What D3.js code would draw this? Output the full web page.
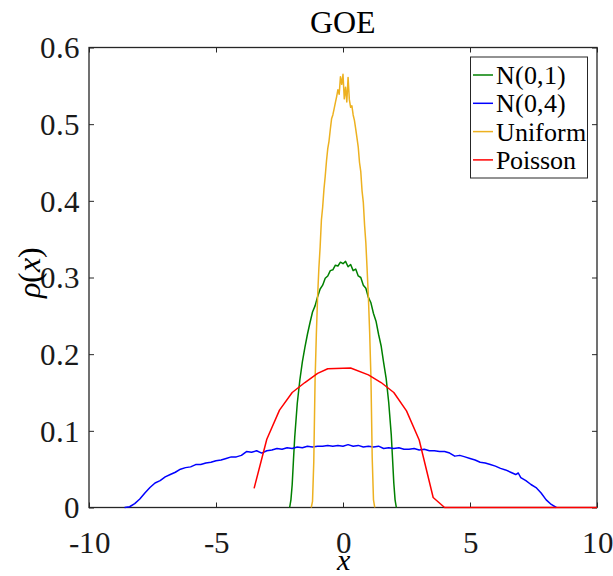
<html>
<head>
<meta charset="utf-8">
<script src="https://cdn.jsdelivr.net/npm/d3@7"></script>
<style>
  @font-face { font-family: 'ChartSerif'; font-style: normal; src: local('Liberation Serif'), local('LiberationSerif'), local('Times New Roman'); }
  @font-face { font-family: 'ChartSerif'; font-style: italic; src: local('Liberation Serif Italic'), local('LiberationSerif-Italic'), local('Times New Roman Italic'); }
  text { font-family: 'ChartSerif', 'Liberation Serif', 'Times New Roman', 'Nimbus Roman', 'FreeSerif'; }
</style>
</head>
<body style="margin:0">
<svg id="chart" width="613" height="576"></svg>
<script>
// Eigenvalue densities of GOE matrices with different entry distributions
const seriesNames = ["N(0,1)", "N(0,4)", "Uniform", "Poisson"];
const seriesColors = ["#008000", "#0000ff", "#edb120", "#ff0000"];

const xTicks = [-10, -5, 0, 5, 10];
const yTicks = [0, 0.1, 0.2, 0.3, 0.4, 0.5, 0.6];

// N(0,1) entries
const n01 = [
  [-2.10, 0.000], [-2.05, 0.010], [-2.00, 0.030], [-1.95, 0.062], [-1.90, 0.092],
  [-1.80, 0.136], [-1.70, 0.166], [-1.60, 0.190], [-1.50, 0.209], [-1.40, 0.226],
  [-1.30, 0.241], [-1.20, 0.255], [-1.10, 0.263], [-1.00, 0.275], [-0.90, 0.285],
  [-0.80, 0.290], [-0.70, 0.299], [-0.60, 0.302], [-0.50, 0.309], [-0.40, 0.310],
  [-0.30, 0.316], [-0.20, 0.315], [-0.10, 0.320], [0.00, 0.318], [0.10, 0.321],
  [0.20, 0.314], [0.30, 0.317], [0.40, 0.309], [0.50, 0.311], [0.60, 0.302],
  [0.70, 0.300], [0.80, 0.290], [0.90, 0.286], [1.00, 0.274], [1.10, 0.267],
  [1.20, 0.253], [1.30, 0.243], [1.40, 0.226], [1.50, 0.211], [1.60, 0.189],
  [1.70, 0.168], [1.80, 0.137], [1.90, 0.095], [1.95, 0.064], [2.00, 0.032],
  [2.05, 0.010], [2.10, 0.000]
];

// N(0,4) entries
const n04 = [
  [-8.60, 0.000], [-8.40, 0.001], [-8.20, 0.005], [-8.00, 0.011], [-7.80, 0.019],
  [-7.60, 0.026], [-7.40, 0.032], [-7.20, 0.035], [-7.00, 0.040], [-6.80, 0.043],
  [-6.60, 0.046], [-6.40, 0.050], [-6.20, 0.052], [-6.00, 0.053], [-5.80, 0.056],
  [-5.60, 0.056], [-5.40, 0.058], [-5.20, 0.059], [-5.00, 0.061], [-4.80, 0.062],
  [-4.60, 0.064], [-4.40, 0.066], [-4.20, 0.066], [-4.00, 0.068], [-3.80, 0.073],
  [-3.60, 0.072], [-3.40, 0.074], [-3.20, 0.071], [-3.00, 0.074], [-2.80, 0.075],
  [-2.60, 0.077], [-2.40, 0.076], [-2.20, 0.078], [-2.00, 0.077], [-1.80, 0.079],
  [-1.60, 0.078], [-1.40, 0.080], [-1.20, 0.079], [-1.00, 0.080], [-0.80, 0.080],
  [-0.60, 0.081], [-0.40, 0.080], [-0.20, 0.081], [0.00, 0.080], [0.20, 0.082],
  [0.40, 0.080], [0.60, 0.081], [0.80, 0.079], [1.00, 0.080], [1.20, 0.079],
  [1.40, 0.080], [1.60, 0.077], [1.80, 0.078], [2.00, 0.077], [2.20, 0.078],
  [2.40, 0.076], [2.60, 0.076], [2.80, 0.077], [3.00, 0.075], [3.20, 0.076],
  [3.40, 0.074], [3.60, 0.074], [3.80, 0.073], [4.00, 0.073], [4.20, 0.071],
  [4.40, 0.067], [4.60, 0.068], [4.80, 0.066], [5.00, 0.064], [5.20, 0.062],
  [5.40, 0.059], [5.60, 0.058], [5.80, 0.056], [6.00, 0.054], [6.20, 0.051],
  [6.40, 0.049], [6.60, 0.046], [6.80, 0.043], [6.90, 0.045], [7.00, 0.039],
  [7.20, 0.035], [7.40, 0.030], [7.60, 0.026], [7.80, 0.019], [8.00, 0.010],
  [8.20, 0.004], [8.40, 0.000]
];

// Uniform entries
const uniform = [
  [-1.25, 0.000], [-1.20, 0.008], [-1.15, 0.060], [-1.10, 0.165], [-1.05, 0.225],
  [-1.00, 0.275], [-0.95, 0.312], [-0.90, 0.340], [-0.85, 0.375], [-0.80, 0.392],
  [-0.75, 0.415], [-0.70, 0.432], [-0.65, 0.452], [-0.60, 0.468], [-0.55, 0.478],
  [-0.50, 0.493], [-0.45, 0.507], [-0.40, 0.512], [-0.35, 0.520], [-0.30, 0.528],
  [-0.25, 0.536], [-0.20, 0.545], [-0.15, 0.539], [-0.10, 0.562], [-0.05, 0.552],
  [0.00, 0.565], [0.05, 0.533], [0.10, 0.548], [0.15, 0.529], [0.20, 0.561],
  [0.25, 0.532], [0.30, 0.522], [0.35, 0.524], [0.40, 0.512], [0.45, 0.505],
  [0.50, 0.494], [0.55, 0.482], [0.60, 0.470], [0.65, 0.450], [0.70, 0.438],
  [0.75, 0.413], [0.80, 0.398], [0.85, 0.368], [0.90, 0.345], [0.95, 0.310],
  [1.00, 0.274], [1.05, 0.228], [1.10, 0.170], [1.15, 0.065], [1.20, 0.010],
  [1.25, 0.000]
];

// Poisson entries
const poisson = [
  [-3.50, 0.025], [-3.00, 0.089], [-2.50, 0.127], [-2.00, 0.150], [-1.50, 0.163],
  [-1.00, 0.175], [-0.60, 0.181], [0.30, 0.182], [1.00, 0.173], [1.50, 0.163],
  [2.00, 0.150], [2.50, 0.126], [3.00, 0.088], [3.55, 0.013], [4.00, 0.000],
  [10.00, 0.000]
];

const allSeries = [n01, n04, uniform, poisson];

const svg = d3.select("#chart");
const plotL = 89, plotR = 597, plotT = 47.5, plotB = 507.5;
const axisColor = "#262626";

const x = d3.scaleLinear().domain([-10, 10]).range([plotL, plotR]);
const y = d3.scaleLinear().domain([0, 0.6]).range([plotB, plotT]);

const fmt = d => String(d);

// bottom axis with labels
const gx = svg.append("g").attr("transform", `translate(0,${plotB})`)
  .call(d3.axisBottom(x).tickValues(xTicks).tickFormat(fmt).tickSizeInner(-5).tickSizeOuter(0).tickPadding(23));
// left axis with labels
const gy = svg.append("g").attr("transform", `translate(${plotL},0)`)
  .call(d3.axisLeft(y).tickValues(yTicks).tickFormat(fmt).tickSizeInner(-5).tickSizeOuter(0).tickPadding(9));
// top and right axes: ticks only
const gt = svg.append("g").attr("transform", `translate(0,${plotT})`)
  .call(d3.axisTop(x).tickValues(xTicks).tickFormat("").tickSizeInner(-5).tickSizeOuter(0));
const gr = svg.append("g").attr("transform", `translate(${plotR},0)`)
  .call(d3.axisRight(y).tickValues(yTicks).tickFormat("").tickSizeInner(-5).tickSizeOuter(0));

[gx, gy, gt, gr].forEach(g => {
  g.attr("font-family", null).attr("font-size", null);
  g.select(".domain").remove();
  g.selectAll(".tick line").attr("stroke", axisColor).attr("stroke-width", 1);
  g.selectAll(".tick text").attr("fill", "#1a1a1a").style("font-size", "31px");
});
gy.selectAll(".tick text").attr("dy", "0.33em");

// axes box
svg.append("rect")
  .attr("x", plotL).attr("y", plotT)
  .attr("width", plotR - plotL).attr("height", plotB - plotT)
  .attr("fill", "none").attr("stroke", axisColor).attr("stroke-width", 1.3);

// density curves
const line = d3.line().x(d => x(d[0])).y(d => y(d[1]));
svg.append("g").selectAll("path")
  .data(allSeries)
  .join("path")
  .attr("d", line)
  .attr("fill", "none")
  .attr("stroke", (d, i) => seriesColors[i])
  .attr("stroke-width", 1.5)
  .attr("stroke-linejoin", "round");

// title
svg.append("text")
  .attr("x", (plotL + plotR) / 2).attr("y", 33)
  .attr("text-anchor", "middle")
  .style("font-size", "32px").attr("fill", "#000")
  .text("GOE");

// x label
svg.append("text")
  .attr("x", (plotL + plotR) / 2).attr("y", 569.5)
  .attr("text-anchor", "middle")
  .style("font-size", "30px").style("font-style", "italic")
  .text("x");

// y label
const yl = svg.append("text")
  .attr("transform", `translate(40,${(plotT + plotB) / 2 - 5}) rotate(-90)`)
  .attr("text-anchor", "middle")
  .style("font-size", "32px");
yl.append("tspan").style("font-style", "italic").text("ρ");
yl.append("tspan").text("(");
yl.append("tspan").style("font-style", "italic").text("x");
yl.append("tspan").text(")");

// legend
const lg = svg.append("g");
lg.append("rect")
  .attr("x", 470.5).attr("y", 57).attr("width", 117).attr("height", 121)
  .attr("fill", "#fff").attr("stroke", axisColor).attr("stroke-width", 1);
seriesNames.forEach((name, i) => {
  const cy = 75 + i * 28.3;
  lg.append("line")
    .attr("x1", 473).attr("x2", 493).attr("y1", cy).attr("y2", cy)
    .attr("stroke", seriesColors[i]).attr("stroke-width", 1.5);
  lg.append("text")
    .attr("x", 496).attr("y", cy).attr("dy", "0.35em")
    .style("font-size", "25.5px").attr("fill", "#000")
    .text(name);
});
</script>
</body>
</html>
